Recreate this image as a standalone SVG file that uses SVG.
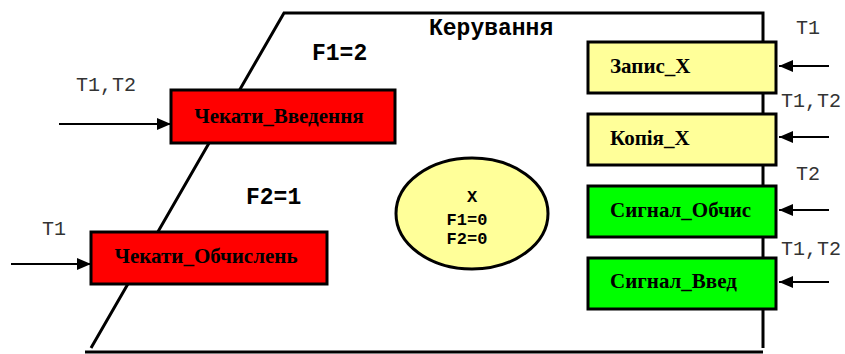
<svg xmlns="http://www.w3.org/2000/svg" width="845" height="354" viewBox="0 0 845 354">
  <style>
    .frame { fill: none; stroke: #000; stroke-width: 3; }
    .box { stroke: #000; stroke-width: 3; }
    .red { fill: #ff0000; }
    .yellow { fill: #ffff99; }
    .green { fill: #00ff00; }
    .name { font-family: "Liberation Serif", serif; font-weight: bold; font-size: 21px; fill: #000; }
    .mono { font-family: "Courier New", "Nimbus Mono PS", FreeMono, "Liberation Mono", monospace; font-weight: bold; fill: #000; }
    .sig { font-family: "Courier New", "Nimbus Mono PS", FreeMono, "Liberation Mono", monospace; font-size: 20px; fill: #333; }
    .wire { stroke: #000; stroke-width: 2; fill: none; marker-end: url(#head); }
  </style>
  <defs>
    <marker id="head" viewBox="0 0 14 12" refX="14" refY="6" markerWidth="14" markerHeight="12" markerUnits="userSpaceOnUse" orient="auto">
      <path d="M0,0 L14,6 L0,12 Z" fill="#000"/>
    </marker>
  </defs>

  <rect width="845" height="354" fill="#fff"/>

  <!-- control region outline -->
  <g id="control">
    <path class="frame" d="M91,348 L284,13 L763,13 L763,348"/>
    <line class="frame" x1="85" y1="352" x2="763" y2="352"/>
    <text class="mono" x="429" y="35" font-size="23">Керування</text>
    <text class="mono" x="312" y="60" font-size="23">F1=2</text>
    <text class="mono" x="246" y="204" font-size="23">F2=1</text>
  </g>

  <!-- input signals -->
  <g id="connectors">
    <line class="wire" x1="59" y1="124" x2="171" y2="124"/>
    <line class="wire" x1="11" y1="264" x2="91" y2="264"/>
    <line class="wire" x1="829" y1="66" x2="779" y2="66"/>
    <line class="wire" x1="829" y1="137" x2="779" y2="137"/>
    <line class="wire" x1="829" y1="210" x2="779" y2="210"/>
    <line class="wire" x1="829" y1="282" x2="779" y2="282"/>
    <text class="sig" x="76" y="91">T1,T2</text>
    <text class="sig" x="42" y="235">T1</text>
    <text class="sig" x="796" y="34">T1</text>
    <text class="sig" x="781" y="107">T1,T2</text>
    <text class="sig" x="796" y="180">T2</text>
    <text class="sig" x="781" y="255">T1,T2</text>
  </g>

  <g id="wait-input">
    <rect class="box red" x="171" y="90" width="224" height="53"/>
    <text class="name" x="279" y="123" text-anchor="middle">Чекати_Введення</text>
  </g>

  <g id="wait-compute">
    <rect class="box red" x="91" y="232" width="236" height="52"/>
    <text class="name" x="206" y="263" text-anchor="middle">Чекати_Обчислень</text>
  </g>

  <g id="state">
    <ellipse cx="472" cy="213.5" rx="76" ry="55.5" fill="#ffff99" stroke="#000" stroke-width="3"/>
    <text class="mono" x="472" y="202" font-size="17" text-anchor="middle">X</text>
    <text class="mono" x="467" y="225" font-size="17" text-anchor="middle">F1=0</text>
    <text class="mono" x="467" y="244" font-size="17" text-anchor="middle">F2=0</text>
  </g>

  <g id="write-x">
    <rect class="box yellow" x="588" y="42" width="188" height="51"/>
    <text class="name" x="610" y="73">Запис_Х</text>
  </g>

  <g id="copy-x">
    <rect class="box yellow" x="588" y="114" width="188" height="51"/>
    <text class="name" x="610" y="145">Копія_Х</text>
  </g>

  <g id="signal-compute">
    <rect class="box green" x="588" y="186" width="188" height="51"/>
    <text class="name" x="610" y="217">Сигнал_Обчис</text>
  </g>

  <g id="signal-input">
    <rect class="box green" x="588" y="258" width="188" height="51"/>
    <text class="name" x="610" y="288">Сигнал_Введ</text>
  </g>
</svg>
